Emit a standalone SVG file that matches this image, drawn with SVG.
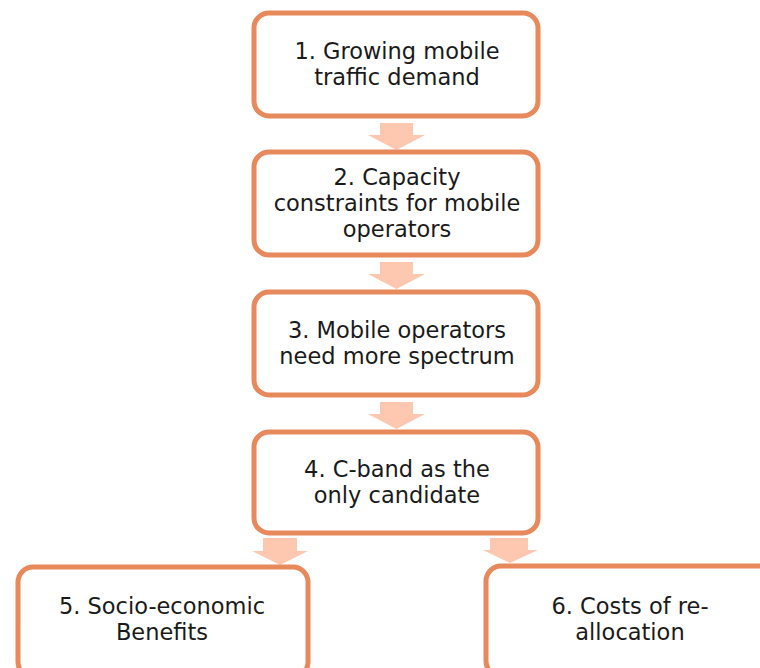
<svg xmlns="http://www.w3.org/2000/svg" width="760" height="668" viewBox="0 0 760 668">
  <style>
    .box { fill: #ffffff; stroke: #E8895C; stroke-width: 5; }
    .arrow { fill: #FEC7AF; }
    .label { font-family: "DejaVu Sans", "Liberation Sans", sans-serif; font-size: 22.5px; fill: #1a1a1a; text-anchor: middle; }
  </style>
  <rect width="760" height="668" fill="#ffffff"/>

  <!-- connectors: block arrows between steps -->
  <g id="connectors">
    <polygon class="arrow" points="380,123 413,123 413,135 425,135 396.5,150 368,135 380,135"/>
    <polygon class="arrow" points="380,262 413,262 413,274 425,274 396.5,289 368,274 380,274"/>
    <polygon class="arrow" points="380,402 413,402 413,414 425,414 396.5,429 368,414 380,414"/>
    <polygon class="arrow" points="263,538 297,538 297,551 308,551 280,565 252,551 263,551"/>
    <polygon class="arrow" points="490,538 528,538 528,550 538,550 510,563 483,550 490,550"/>
  </g>

  <g id="node1">
    <rect class="box" x="254" y="13" width="284" height="103" rx="15"/>
    <text class="label" x="397" y="59">1. Growing mobile</text>
    <text class="label" x="397" y="85">traffic demand</text>
  </g>

  <g id="node2">
    <rect class="box" x="254" y="152" width="284" height="103" rx="15"/>
    <text class="label" x="397" y="185">2. Capacity</text>
    <text class="label" x="397" y="211">constraints for mobile</text>
    <text class="label" x="397" y="237">operators</text>
  </g>

  <g id="node3">
    <rect class="box" x="254" y="292" width="284" height="103" rx="15"/>
    <text class="label" x="397" y="338">3. Mobile operators</text>
    <text class="label" x="397" y="364">need more spectrum</text>
  </g>

  <g id="node4">
    <rect class="box" x="254" y="432" width="284" height="101" rx="15"/>
    <text class="label" x="397" y="477">4. C-band as the</text>
    <text class="label" x="397" y="503">only candidate</text>
  </g>

  <g id="node5">
    <rect class="box" x="18" y="567" width="290" height="110" rx="15"/>
    <text class="label" x="162" y="614">5. Socio-economic</text>
    <text class="label" x="162" y="640">Benefits</text>
  </g>

  <g id="node6">
    <rect class="box" x="486" y="566" width="300" height="110" rx="15"/>
    <text class="label" x="630" y="614">6. Costs of re-</text>
    <text class="label" x="630" y="640">allocation</text>
  </g>
</svg>
